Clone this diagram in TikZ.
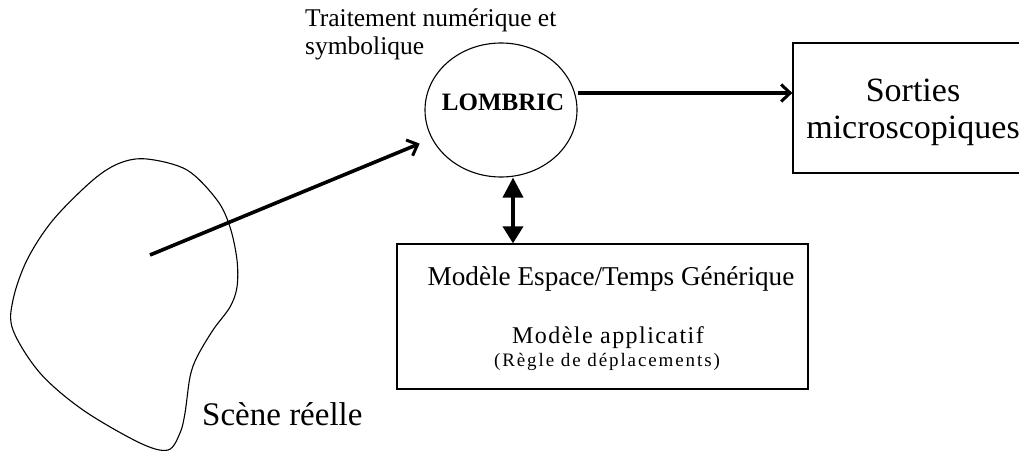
\documentclass[tikz,border=0pt]{standalone}
\usepackage{fontspec}
\setmainfont{Liberation Serif}
\usetikzlibrary{positioning,arrows.meta,shapes.geometric}

\begin{document}
\begin{tikzpicture}[x=1pt,y=-1pt,
    arr/.style={line width=3.6pt,-{Straight Barb[length=9pt,width=17pt,line width=3pt]}},
    dbl/.style={line width=3.6pt,{Triangle[length=20pt,width=20pt]}-{Triangle[length=17pt,width=20pt]}},
    boite/.style={draw,line width=1.3pt,inner sep=0pt}]
  \useasboundingbox (0,0) rectangle (1019,452);

  \draw[line width=1.1pt] plot[smooth cycle,tension=0.55] coordinates {
    (147,159) (187,170) (217,200) (230,227) (237,260) (237,287) (230,307)
    (213,330) (197,357) (190,377) (185,413) (180,433) (168,450) (140,443)
    (83,410) (40,373) (13,330) (13,300) (27,260) (53,220) (93,180) (120,163)};
  \node[anchor=base west,inner sep=0pt,font=\fontsize{33}{37}\selectfont] (scene) at (202,425) {Scène réelle};
  \coordinate (depart) at (150,255);

  \node[ellipse,draw,line width=1.1pt,minimum width=152pt,minimum height=134pt,inner sep=0pt] (lombric) at (501,110) {};
  \node[anchor=base,font=\fontsize{25}{30}\selectfont\bfseries] (nom) at (503,110) {LOMBRIC};
  \node[anchor=base west,align=left,inner sep=0pt,font=\fontsize{25.5}{28}\selectfont] (traitement) at (305,55) {Traitement numérique et\\symbolique};

  \node[boite,minimum width=240pt,minimum height=130pt] (sorties) at (913,108) {};
  \node[align=center,font=\fontsize{34}{37}\selectfont] (sortiestxt) at (913,112) {Sorties\\microscopiques};

  \node[boite,minimum width=411pt,minimum height=145pt] (modele) at (602.5,316.5) {};
  \node[anchor=base,font=\fontsize{27.2}{30}\selectfont] (titre) at (611,285) {Modèle Espace/Temps Générique};
  \node[anchor=base,font=\fontsize{24}{28}\selectfont\addfontfeature{LetterSpace=6}] (appli) at (608,343) {Modèle applicatif};
  \node[anchor=base,font=\fontsize{19}{22}\selectfont\addfontfeature{LetterSpace=10}] (regle) at (607,366) {(Règle de déplacements)};

  \draw[arr,shorten >=13pt] (depart) -- (lombric);
  \coordinate (droite) at ([yshift=17pt]lombric.east);
  \draw[arr] (droite) -- (droite -| sorties.west);
  \coordinate (bas) at ([xshift=12pt]lombric.south);
  \draw[dbl] (bas) -- (bas |- modele.north);
\end{tikzpicture}
\end{document}
